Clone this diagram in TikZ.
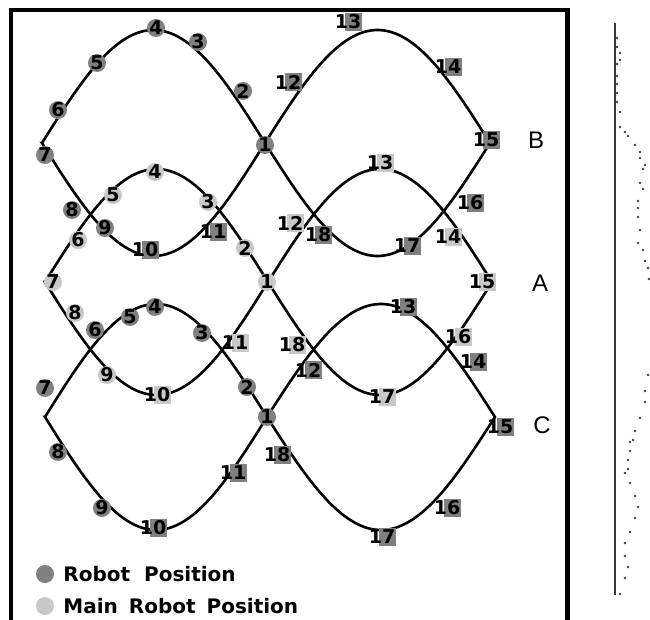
\documentclass[tikz,border=0pt]{standalone}
\usepackage{fontspec}
\usepackage{tikz}
\usetikzlibrary{positioning}
\newfontfamily\labfont{DejaVu Sans}
\newfontfamily\tagfont{Liberation Sans}
\definecolor{robotgray}{RGB}{128,128,128}
\definecolor{maingray}{RGB}{200,200,200}
\definecolor{axisgray}{RGB}{55,55,55}
\tikzset{
  pathline/.style={line width=2.6pt,line join=miter},
  framebar/.style={line width=4.2pt},
  numlab/.style={font=\labfont\bfseries\fontsize{19}{19}\selectfont,inner sep=0pt},
  onedot/.style={circle,minimum size=18pt,inner sep=0pt},
  twodot/.style={rectangle,minimum width=17pt,minimum height=18pt,inner sep=0pt},
  lobetag/.style={font=\tagfont\fontsize{24}{24}\selectfont,inner sep=0pt},
  legtext/.style={font=\labfont\bfseries\fontsize{20}{20}\selectfont,anchor=west,inner sep=0pt},
  trackdot/.style={fill=black!75}
}
% left x, centre x, right x, centre y, amplitude
\newcommand{\eightpath}[5]{%
  \draw[pathline] plot[domain=#2:#1,samples=60] (\x,{#4-#5*sin((\x-#1)/(#2-#1)*180)})
    -- plot[domain=#1:#2,samples=60] (\x,{#4+#5*sin((\x-#1)/(#2-#1)*180)})
    -- plot[domain=#2:#3,samples=60] (\x,{#4-#5*sin((\x-#2)/(#3-#2)*180)})
    -- plot[domain=#3:#2,samples=60] (\x,{#4+#5*sin((\x-#2)/(#3-#2)*180)});
}
% colour, name prefix, x, y, number
\newcommand{\spot}[5]{%
  \ifnum#5>9
    \node[twodot,fill=#1] at (#3+5,#4) {};
  \else
    \node[onedot,fill=#1] at (#3,#4) {};
  \fi
  \node[numlab] (#2#5) at (#3,#4) {#5};
}
\begin{document}
\begin{tikzpicture}[x=1pt,y=-1pt]
  \useasboundingbox (0,0) rectangle (650,620);
  \clip (0,0) rectangle (650,620);
  \fill[white] (0,0) rectangle (650,620);
  \draw[framebar] (11,640) -- (11,10) -- (567.5,10) -- (567.5,640);

  % the three figure-eight paths
  \eightpath{42}{265}{490}{143}{113}
  \eightpath{45}{268}{492}{282}{113}
  \eightpath{45}{267}{495}{417}{113}

  % path B
  \foreach \x/\y/\n in {265/145/1,243/91/2,198/42/3,156/28/4,97/63/5,58/110/6,
    45/155/7,72/210/8,105/228/9,145/250/10,213/232/11,288/82/12,348/22/13,
    448/67/14,486/140/15,470/203/16,407/246/17,318/235/18}
    {\spot{robotgray}{b}{\x}{\y}{\n}}
  % path A
  \foreach \x/\y/\n in {267/282/1,245/248/2,208/202/3,155/172/4,113/195/5,78/240/6,
    53/282/7,75/313/8,107/375/9,157/395/10,235/343/11,290/223/12,380/163/13,
    448/237/14,482/282/15,458/337/16,382/397/17,292/345/18}
    {\spot{maingray}{a}{\x}{\y}{\n}}
  % path C
  \foreach \x/\y/\n in {267/417/1,247/387/2,202/333/3,155/307/4,130/317/5,95/330/6,
    45/388/7,58/452/8,102/508/9,153/528/10,233/473/11,308/370/12,403/307/13,
    473/362/14,500/427/15,447/508/16,382/537/17,277/455/18}
    {\spot{robotgray}{c}{\x}{\y}{\n}}

  \node[lobetag] (tagB) at (536,140) {B};
  \node[lobetag] (tagA) at (540,283) {A};
  \node[lobetag] (tagC) at (542,425) {C};

  % legend
  \node[onedot,fill=robotgray] (legrobot) at (45,574) {};
  \node[legtext,right=9pt of legrobot] (legrobottext) {Robot\hspace{14pt}Position};
  \node[onedot,fill=maingray] (legmain) at (45,606) {};
  \node[legtext,right=9pt of legmain] (legmaintext) {Main\hspace{11pt}Robot\hspace{11pt}Position};

  % side track
  \coordinate (axtop) at (615,23);
  \coordinate (axbot) at (615,595);
  \draw[line width=2.6pt,axisgray] (axtop) -- (axbot);
  \foreach \x/\y in {617/38,617/47,620/53,620/60,617/64,617/76,617/84,617/93,
    617/102,620/112,620/127,625/132,628/136,635/145,640/152,640/158,645/165,
    643/169,640/183,643/189,638/201,638/208,638/217,640/230,638/243,643/250,
    645/261,648/268,649/279,648/375,645/391,645/402,640/418,635/431,633/440,
    630/442,630/451,628/460,628/469,625/473,630/483,635/496,638/507,635/518,
    630/532,625/543,625/556,628/567,625/578,620/594}
    \fill[trackdot] (\x,\y) circle (1.4pt);
\end{tikzpicture}
\end{document}
